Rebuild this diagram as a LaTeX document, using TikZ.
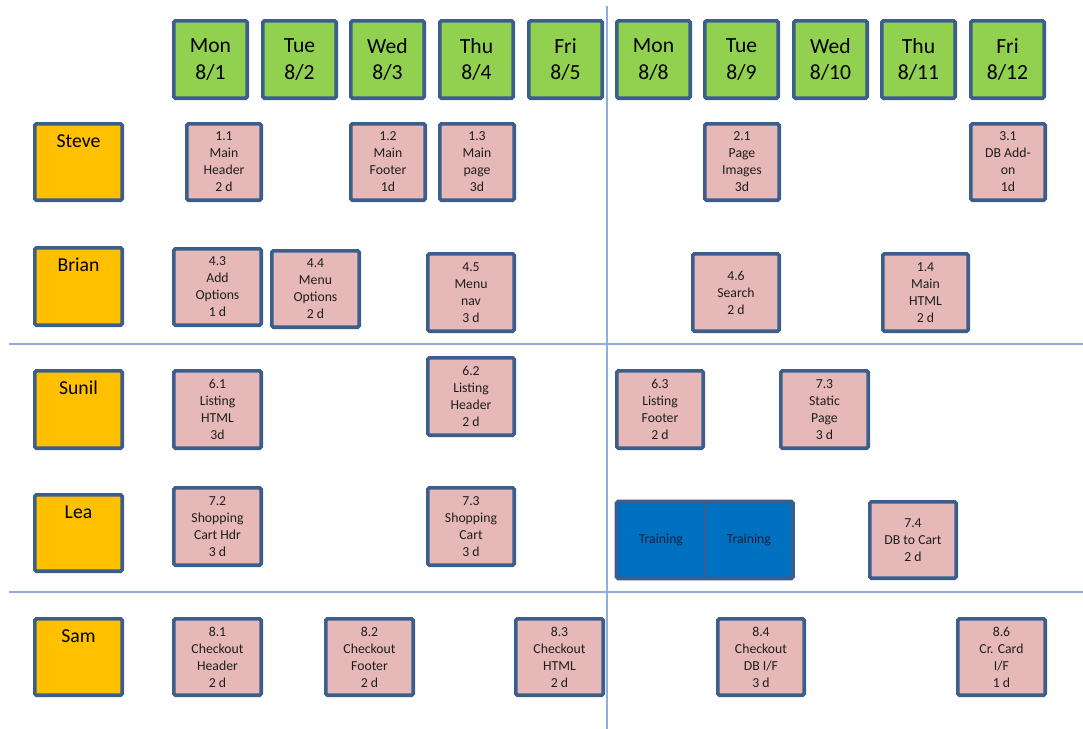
\documentclass[tikz,border=0pt]{standalone}
\usepackage{fontspec}
\setmainfont{Carlito}
\definecolor{bordC}{HTML}{3B5E8C}
\definecolor{dayC}{HTML}{92D050}
\definecolor{nameC}{HTML}{FFC000}
\definecolor{taskC}{HTML}{E6B9B8}
\definecolor{trainC}{HTML}{0070C0}
\definecolor{lineC}{HTML}{8EAEDB}
\definecolor{txtC}{HTML}{1E1E1E}
\definecolor{trainTxt}{HTML}{14213D}
\newcommand\bx[7]{\node[#2, minimum width={(#5-#3-3.6)*0.75pt}, minimum height={(#6-#4-3.6)*0.75pt}] (#1) at ({(#3+#5)/2},{(#4+#6)/2}) {#7};}
\newcommand\px[7]{\bx{#1}{person}{#2}{#3}{#4}{#5}{}\node[namefont, anchor=base] (#6) at ({(#2+#4)/2},{#3+25.5}) {#7};}
\newcommand\tx[7]{\node[#2, minimum width={(#5-#3)*0.75pt}, minimum height={(#6-#4)*0.75pt}] (#1) at ({(#3+#5)/2},{(#4+#6)/2}) {#7};}
\begin{document}
\begin{tikzpicture}[x=0.75pt,y=-0.75pt,
  base/.style={draw=bordC, line width=2.7pt, rounded corners=1.2pt, inner sep=0pt, align=center},
  day/.style={base, fill=dayC, font=\fontsize{16.2}{20}\selectfont, text=black},
  person/.style={base, fill=nameC},
  namefont/.style={font=\fontsize{14.8}{17}\selectfont, text=black, inner sep=0pt},
  task/.style={base, fill=taskC, font=\fontsize{10.3}{12.75}\selectfont, text=txtC},
  train/.style={fill=trainC, inner sep=0pt, font=\fontsize{10.3}{12.75}\selectfont, text=trainTxt},
  grid/.style={draw=lineC, line width=1.5pt}]
\useasboundingbox (0,0) rectangle (1083,729);
% grid lines
\coordinate (vt) at (607,6);
\coordinate (vb) at (607,729);
\coordinate (h1l) at (9,344);
\coordinate (h1r) at (1083,344);
\coordinate (h2l) at (9,592);
\coordinate (h2r) at (1083,592);
\draw[grid] (vt) -- (vb);
\draw[grid] (h1l) -- (h1r);
\draw[grid] (h2l) -- (h2r);
% days
\bx{d1}{day}{172}{19}{249}{100}{Mon\\8/1}
\bx{d2}{day}{261}{19}{338}{100}{Tue\\8/2}
\bx{d3}{day}{349}{19}{426}{100}{Wed\\8/3}
\bx{d4}{day}{438}{19}{515}{100}{Thu\\8/4}
\bx{d5}{day}{527}{19}{604}{100}{Fri\\8/5}
\bx{d6}{day}{615}{19}{692}{100}{Mon\\8/8}
\bx{d7}{day}{703}{19}{780}{100}{Tue\\8/9}
\bx{d8}{day}{792}{19}{869}{100}{Wed\\8/10}
\bx{d9}{day}{880}{19}{957}{100}{Thu\\8/11}
\bx{d10}{day}{969}{19}{1046}{100}{Fri\\8/12}
% people
\px{steve}{33}{122}{124}{202}{steveT}{Steve}
\px{brian}{33}{246}{124}{327}{brianT}{Brian}
\px{sunil}{33}{369}{124}{450}{sunilT}{Sunil}
\px{lea}{33}{493}{124}{573}{leaT}{Lea}
\px{sam}{33}{617}{124}{697}{samT}{Sam}
% Steve
\bx{t11}{task}{185}{122}{263}{202}{1.1\\Main\\Header\\2 d}
\bx{t12}{task}{349}{122}{427}{202}{1.2\\Main\\Footer\\1d}
\bx{t13}{task}{438}{122}{516}{202}{1.3\\Main\\page\\3d}
\bx{t21}{task}{703}{122}{781}{202}{2.1\\Page\\Images\\3d}
\bx{t31}{task}{969}{122}{1047}{202}{3.1\\DB Add-\\on\\1d}
% Brian
\bx{t43}{task}{172}{247}{263}{327}{4.3\\Add\\Options\\1 d}
\bx{t44}{task}{270}{249}{361}{329}{4.4\\Menu\\Options\\2 d}
\bx{t45}{task}{426}{252}{516}{333}{4.5\\Menu\\nav\\3 d}
\bx{t46}{task}{691}{252}{781}{333}{4.6\\Search\\2 d}
\bx{t14}{task}{881}{252}{970}{333}{1.4\\Main\\HTML\\2 d}
% Sunil
\bx{t61}{task}{172}{369}{263}{450}{6.1\\Listing\\HTML\\3d}
\bx{t62}{task}{426}{356}{516}{437}{6.2\\Listing\\Header\\2 d}
\bx{t63}{task}{615}{369}{705}{450}{6.3\\Listing\\Footer\\2 d}
\bx{t73s}{task}{779}{369}{870}{450}{7.3\\Static\\Page\\3 d}
% Lea
\bx{t72}{task}{172}{486}{263}{567}{7.2\\Shopping\\Cart Hdr\\3 d}
\bx{t73}{task}{426}{486}{516}{567}{7.3\\Shopping\\Cart\\3 d}
\tx{tr1}{train}{616.8}{501.8}{705}{578.2}{Training}
\tx{tr2}{train}{705}{501.8}{792.7}{578.2}{Training}
\draw[draw=bordC, line width=1.3pt] (tr1.north east) -- (tr1.south east);
\draw[draw=bordC, line width=2.7pt, rounded corners=1.2pt] (tr1.north west) rectangle (tr2.south east);
\bx{t74}{task}{868}{500}{958}{580}{7.4\\DB to Cart\\2 d}
% Sam
\bx{t81}{task}{172}{617}{263}{697}{8.1\\Checkout\\Header\\2 d}
\bx{t82}{task}{324}{617}{415}{697}{8.2\\Checkout\\Footer\\2 d}
\bx{t83}{task}{514}{617}{605}{697}{8.3\\Checkout\\HTML\\2 d}
\bx{t84}{task}{716}{617}{806}{697}{8.4\\Checkout\\DB I/F\\3 d}
\bx{t86}{task}{956}{617}{1047}{697}{8.6\\Cr. Card\\I/F\\1 d}
\end{tikzpicture}
\end{document}
